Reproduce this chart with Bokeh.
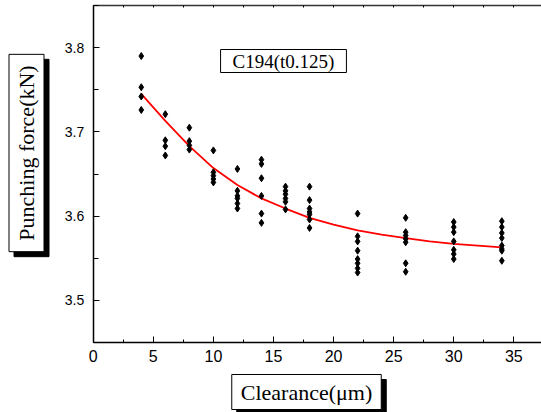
import math
from bokeh.plotting import figure
from bokeh.models import Label, LinearAxis, SingleIntervalTicker, FixedTicker, Range1d
from bokeh.embed import file_html
from bokeh.resources import INLINE

# ---- data ----
clearance_groups = [4, 6, 8, 10, 12, 14, 16, 18, 22, 26, 30, 34]
force_groups = [
    [3.790, 3.753, 3.742, 3.726],
    [3.721, 3.690, 3.683, 3.672],
    [3.705, 3.689, 3.684, 3.679],
    [3.678, 3.652, 3.648, 3.644, 3.640],
    [3.656, 3.630, 3.624, 3.621, 3.615, 3.609],
    [3.667, 3.662, 3.645, 3.624, 3.603, 3.592],
    [3.635, 3.630, 3.626, 3.621, 3.617, 3.608],
    [3.635, 3.619, 3.609, 3.605, 3.602, 3.596, 3.586],
    [3.603, 3.576, 3.570, 3.559, 3.549, 3.544, 3.538, 3.533],
    [3.598, 3.581, 3.577, 3.573, 3.569, 3.544, 3.534],
    [3.593, 3.587, 3.581, 3.570, 3.560, 3.555, 3.549],
    [3.594, 3.587, 3.580, 3.574, 3.565, 3.561, 3.559, 3.547],
]
fit_x = [4, 6, 8, 10, 12, 14, 16, 18, 20, 22, 24, 26, 28, 30, 32, 34]
fit_y = [3.745, 3.713, 3.683, 3.657, 3.637, 3.621, 3.609, 3.598, 3.590,
         3.583, 3.578, 3.574, 3.570, 3.567, 3.565, 3.563]

x_label_text = "Clearance(\u03bcm)"
y_label_text = "Punching force(kN)"
note_text = "C194(t0.125)"

X_MIN, X_MAX = 0.0, 37.3
Y_MIN, Y_MAX = 3.45, 3.85
top_minor_ticks = [0, 2.5, 5, 7.5, 10, 12.5, 15, 17.5, 20, 22.5, 25, 27.5, 30, 32.5, 35]

pts_x, pts_y = [], []
for cx, ys in zip(clearance_groups, force_groups):
    for v in ys:
        pts_x.append(cx)
        pts_y.append(v)

# ---- layout (pixels) ----
W, H = 541, 412
F_LEFT, F_RIGHT, F_TOP, F_BOTTOM = 92.7, 541.0, 5.0, 342.0
xs = (F_RIGHT - F_LEFT) / (X_MAX - X_MIN)
ys_ = (F_BOTTOM - F_TOP) / (Y_MAX - Y_MIN)
x_range = Range1d(X_MIN - F_LEFT / xs, X_MAX + (W - F_RIGHT) / xs)
y_range = Range1d(Y_MIN - (H - F_BOTTOM) / ys_, Y_MAX + F_TOP / ys_)

p = figure(width=W, height=H, x_range=x_range, y_range=y_range,
           output_backend="svg", toolbar_location=None, min_border=0)
p.grid.visible = False
p.outline_line_color = None
p.background_fill_color = "white"
p.border_fill_color = "white"

xa = p.xaxis[0]
ya = p.yaxis[0]
xa.ticker = SingleIntervalTicker(interval=5, num_minor_ticks=2)
ya.ticker = SingleIntervalTicker(interval=0.1, num_minor_ticks=2)
xa.fixed_location = Y_MIN
ya.fixed_location = X_MIN
xa.bounds = (X_MIN, X_MAX)
ya.bounds = (Y_MIN, Y_MAX)
for ax in (xa, ya):
    ax.axis_line_width = 1.5
    ax.axis_line_color = "black"
    ax.major_tick_in = 6
    ax.major_tick_out = 0
    ax.minor_tick_out = 0
    ax.major_tick_line_color = "black"
    ax.minor_tick_line_color = "black"
    ax.major_label_text_font = "Liberation Sans"
    ax.major_label_text_color = "black"
xa.minor_tick_in = 3
ya.minor_tick_in = 5
xa.major_label_text_font_size = "16px"
ya.major_label_text_font_size = "14px"
xa.major_label_standoff = 7
ya.major_label_standoff = 9

top = LinearAxis(ticker=FixedTicker(ticks=[], minor_ticks=top_minor_ticks),
                 fixed_location=Y_MAX, bounds=(X_MIN, X_MAX))
top.axis_line_width = 1.5
top.axis_line_color = "#333333"
top.major_tick_in = 2
top.major_tick_out = 0
top.minor_tick_in = 2
top.minor_tick_out = 0
top.minor_tick_line_color = "black"
p.add_layout(top, "above")

p.line(fit_x, fit_y, line_color="red", line_width=1.8)
p.scatter(pts_x, pts_y, marker="diamond", size=7, fill_color="black", line_color="black")


def boxed(text, cx, cy, size, angle=0.0, pad=None, shadow_offset=None):
    common = dict(x=cx, y=H - cy, x_units="screen", y_units="screen", text=text,
                  text_font="Liberation Serif", text_font_size=size,
                  text_align="center", text_baseline="middle", angle=angle, padding=pad)
    if shadow_offset is not None:
        p.add_layout(Label(x_offset=shadow_offset[0], y_offset=shadow_offset[1],
                           text_color="black", background_fill_color="black",
                           border_line_color="black", **common))
    p.add_layout(Label(text_color="black", background_fill_color="white",
                       border_line_color="black", border_line_width=1, **common))


boxed(y_label_text, 26, 152.5, "22px", angle=math.pi / 2,
      pad=dict(left=11, right=11, top=5, bottom=5), shadow_offset=(5, -5))
boxed(x_label_text, 306, 391.5, "22px", pad=dict(left=9, right=9, top=5, bottom=5),
      shadow_offset=(5, -5))
boxed(note_text, 283, 60.5, "19px", pad=dict(left=12, right=12, top=1, bottom=1))

open("out.html", "w").write(file_html(p, INLINE))
